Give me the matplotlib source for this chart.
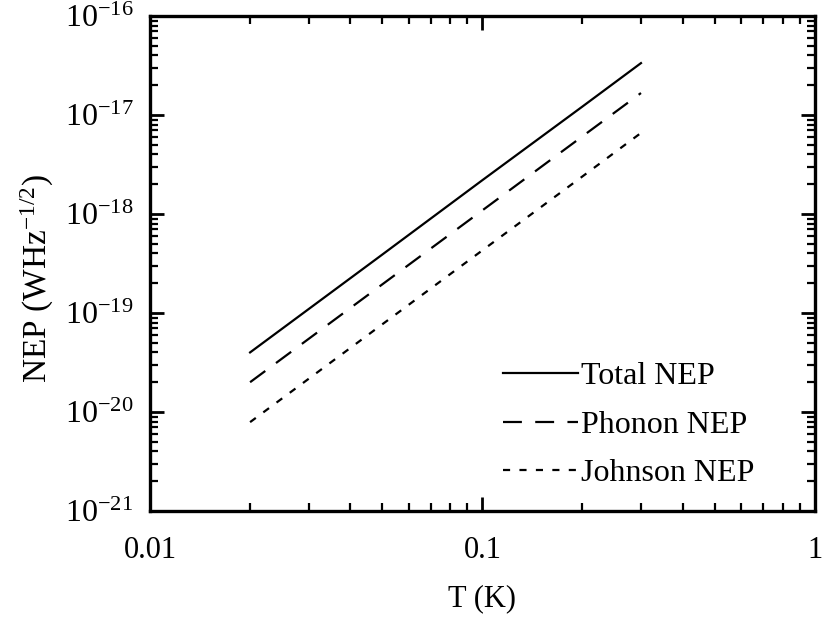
import numpy as np
import matplotlib
matplotlib.use("Agg")
import matplotlib.pyplot as plt
from matplotlib import ticker

plt.rcParams['font.family'] = ['Liberation Serif', 'DejaVu Serif']
plt.rcParams['mathtext.fontset'] = 'custom'
plt.rcParams['mathtext.rm'] = 'Liberation Serif'
plt.rcParams['mathtext.it'] = 'Liberation Serif:italic'
plt.rcParams['mathtext.bf'] = 'Liberation Serif:bold'

# temperatures (K) and NEP values (W Hz^-1/2)
temps = [0.02, 0.05, 0.1, 0.2, 0.3]
total_nep = [4.0e-20, 3.9e-19, 2.2e-18, 1.22e-17, 3.35e-17]
phonon_nep = [2.0e-20, 1.95e-19, 1.09e-18, 6.1e-18, 1.67e-17]
johnson_nep = [7.9e-21, 7.7e-20, 4.3e-19, 2.4e-18, 6.6e-18]

series_labels = ["Total NEP", "Phonon NEP", "Johnson NEP"]
x_ticks = [0.01, 0.1, 1]
x_ticklabels = ["0.01", "0.1", "1"]
y_ticks = [1e-21, 1e-20, 1e-19, 1e-18, 1e-17, 1e-16]


def pow_label(v, pos):
    e = int(round(np.log10(v)))
    return r"$\mathregular{10^{%d}}$" % e


fig = plt.figure(figsize=(8.23, 6.19), dpi=100)
ax = fig.add_axes([0.1823, 0.1745, 0.8077, 0.7995])

ax.plot(temps, total_nep, color='black', lw=1.6, linestyle='-', label=series_labels[0])
ax.plot(temps, phonon_nep, color='black', lw=1.6, linestyle=(0, (8.5, 6)), label=series_labels[1])
ax.plot(temps, johnson_nep, color='black', lw=1.6, linestyle=(0, (3.2, 4.2)), label=series_labels[2])

ax.set_xscale('log')
ax.set_yscale('log')
ax.set_xlim(0.01, 1)
ax.set_ylim(1e-21, 1e-16)

ax.set_xticks(x_ticks)
ax.set_xticklabels(x_ticklabels)
ax.set_yticks(y_ticks)
ax.yaxis.set_major_formatter(ticker.FuncFormatter(pow_label))
ax.xaxis.set_minor_formatter(ticker.NullFormatter())
ax.yaxis.set_minor_formatter(ticker.NullFormatter())
ax.yaxis.set_minor_locator(ticker.LogLocator(base=10, subs=np.arange(2, 10)))
ax.xaxis.set_minor_locator(ticker.LogLocator(base=10, subs=np.arange(2, 10)))

for s in ax.spines.values():
    s.set_linewidth(2.4)

ax.tick_params(which='both', direction='in', top=True, right=True)
ax.tick_params(which='major', length=10, width=2)
ax.tick_params(which='minor', length=6, width=1.6)
ax.tick_params(axis='x', which='major', pad=18, labelsize=22)
ax.tick_params(axis='y', which='major', pad=12, labelsize=23)

ax.set_xlabel("T (K)", fontsize=22, labelpad=14)
ax.set_ylabel(r"NEP (WHz$^{\mathregular{-1/2}}$)", fontsize=24)
ax.yaxis.set_label_coords(-0.142, 0.47)

leg = ax.legend(loc='upper left', frameon=False, fontsize=23, handlelength=2.35,
                handletextpad=0.1, labelspacing=0.6, borderpad=0, borderaxespad=0,
                bbox_to_anchor=(0.531, 0.301))

fig.savefig("out.png", dpi=100)
